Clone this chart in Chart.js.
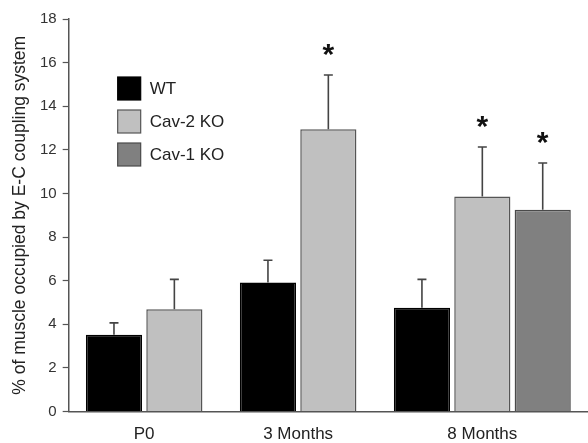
<!DOCTYPE html>
<html>
<head>
<meta charset="utf-8">
<script src="https://cdn.jsdelivr.net/npm/chart.js@4/dist/chart.umd.min.js"></script>
<style>
  html, body { margin: 0; padding: 0; background: #fff; }
  #wrap { width: 588px; height: 443px; }
</style>
</head>
<body>
<div id="wrap"><canvas id="chart" width="588" height="443"></canvas></div>
<script>
// data
const categories = ['P0', '3 Months', '8 Months'];
const seriesNames = ['WT', 'Cav-2 KO', 'Cav-1 KO'];
const wtValues = [3.52, 5.92, 4.76];
const cav2Values = [4.69, 12.95, 9.86];
const cav1Values = [null, null, 9.26];
const wtErrors = [0.55, 1.02, 1.3];
const cav2Errors = [1.37, 2.48, 2.27];
const cav1Errors = [null, null, 2.14];
const cav2Significant = [false, true, true];
const cav1Significant = [false, false, true];
const yTicks = [0, 2, 4, 6, 8, 10, 12, 14, 16, 18];

const values = [wtValues, cav2Values, cav1Values];
const errors = [wtErrors, cav2Errors, cav1Errors];
const significant = [[false, false, false], cav2Significant, cav1Significant];
const fills = ['#000000', '#c0c0c0', '#808080'];
const borders = ['#000000', '#555555', '#4a4a4a'];
const FONT = '"Liberation Sans", Arial, sans-serif';

// place bars side by side in each group, with a gap between groups
const groupGap = 0.55;
const slotX = values.map(() => []);
const groupCenters = [];
let pos = 0;
categories.forEach(function (cat, c) {
    const start = pos;
    values.forEach(function (vals, s) {
        if (vals[c] !== null) {
            slotX[s][c] = pos;
            pos += 1;
        }
    });
    groupCenters.push((start + pos - 1) / 2);
    pos += groupGap;
});
const lastSlot = pos - groupGap - 1;

const datasets = seriesNames.map(function (name, s) {
    const pts = [];
    values[s].forEach(function (v, c) {
        if (v !== null) pts.push({ x: slotX[s][c], y: v, err: errors[s][c], sig: significant[s][c] });
    });
    return {
        label: name,
        data: pts,
        backgroundColor: fills[s],
        borderColor: borders[s],
        borderWidth: 1.5,
        borderSkipped: 'bottom',
        grouped: false,
        barPercentage: 0.93,
        categoryPercentage: 1
    };
});

// upper error bars and significance stars
const errorBars = {
    id: 'errorBars',
    afterDatasetsDraw(chart) {
        const ctx = chart.ctx;
        const y = chart.scales.y;
        chart.data.datasets.forEach(function (ds, i) {
            const meta = chart.getDatasetMeta(i);
            meta.data.forEach(function (bar, j) {
                const p = ds.data[j];
                const top = y.getPixelForValue(p.y + p.err);
                ctx.save();
                ctx.strokeStyle = '#444';
                ctx.lineWidth = 1.6;
                ctx.beginPath();
                ctx.moveTo(bar.x, bar.y);
                ctx.lineTo(bar.x, top);
                ctx.moveTo(bar.x - 4.5, top);
                ctx.lineTo(bar.x + 4.5, top);
                ctx.stroke();
                if (p.sig) {
                    ctx.fillStyle = '#111';
                    ctx.font = 'bold 30px ' + FONT;
                    ctx.textAlign = 'center';
                    ctx.textBaseline = 'middle';
                    ctx.fillText('*', bar.x, top - 19);
                }
                ctx.restore();
            });
        });
    }
};

// legend drawn inside the plot area
const boxLegend = {
    id: 'boxLegend',
    afterDraw(chart) {
        const ctx = chart.ctx;
        const left = chart.chartArea.left + 49;
        const top = chart.chartArea.top + 58;
        chart.data.datasets.forEach(function (ds, i) {
            const y0 = top + i * 33;
            ctx.save();
            ctx.fillStyle = ds.backgroundColor;
            ctx.strokeStyle = ds.borderColor;
            ctx.lineWidth = 1.2;
            ctx.fillRect(left, y0, 23, 23);
            ctx.strokeRect(left, y0, 23, 23);
            ctx.fillStyle = '#222';
            ctx.font = '17px ' + FONT;
            ctx.textBaseline = 'middle';
            ctx.fillText(ds.label, left + 32, y0 + 12);
            ctx.restore();
        });
    }
};

new Chart(document.getElementById('chart'), {
    type: 'bar',
    data: { datasets: datasets },
    options: {
        responsive: false,
        animation: false,
        layout: { padding: { top: 19, right: 0, bottom: -15, left: 10 } },
        plugins: {
            legend: { display: false },
            tooltip: { enabled: false }
        },
        scales: {
            x: {
                type: 'linear',
                offset: false,
                min: -0.75,
                max: lastSlot + 0.75,
                afterBuildTicks: function (scale) {
                    scale.ticks = groupCenters.map(function (v) { return { value: v }; });
                },
                ticks: {
                    padding: 13,
                    color: '#222',
                    maxRotation: 0,
                    font: { family: FONT, size: 17 },
                    callback: function (value, index) { return categories[index]; }
                },
                grid: { display: false, drawTicks: false },
                border: { display: true, color: '#555', width: 1.5 }
            },
            y: {
                min: 0,
                max: 18,
                afterBuildTicks: function (scale) {
                    scale.ticks = yTicks.map(function (v) { return { value: v }; });
                },
                ticks: {
                    padding: 6,
                    color: '#333',
                    font: { family: FONT, size: 15 }
                },
                grid: { drawOnChartArea: false, drawTicks: true, tickLength: 6, color: '#555', tickWidth: 1.2 },
                border: { display: true, color: '#555', width: 1.5 },
                title: {
                    display: true,
                    text: '% of muscle occupied by E-C coupling system',
                    color: '#222',
                    font: { family: FONT, size: 17.5 },
                    padding: { top: 0, bottom: 3 }
                }
            }
        }
    },
    plugins: [errorBars, boxLegend]
});
</script>
</body>
</html>
